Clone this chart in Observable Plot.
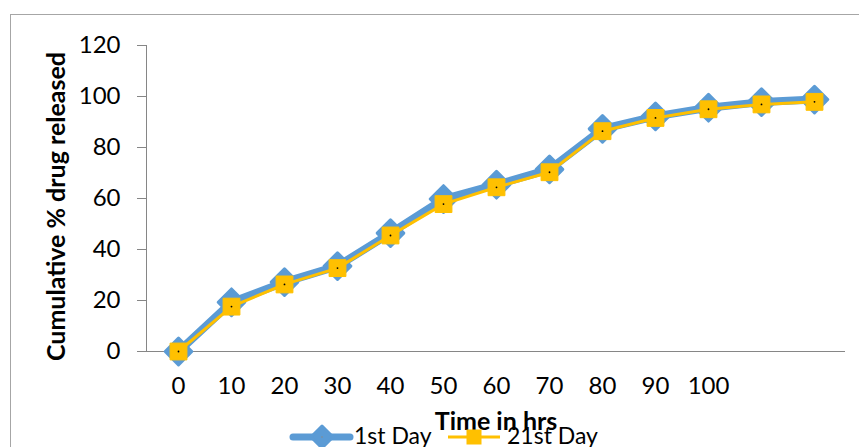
<!DOCTYPE html>
<html>
<head>
<meta charset="utf-8">
<script src="https://cdn.jsdelivr.net/npm/d3@7"></script>
<script src="https://cdn.jsdelivr.net/npm/@observablehq/plot@0.6"></script>
<style>
  html, body { margin: 0; padding: 0; background: #fff; }
  #wrap { position: relative; width: 859px; height: 447px; overflow: hidden; font-family: Lato, "Open Sans", sans-serif; }
  #border { position: absolute; left: 10px; top: 14px; right: -5px; bottom: -5px; border-top: 1px solid #a6a6a6; border-left: 1px solid #a6a6a6; }
  #chart { position: absolute; left: 0; top: 0; }
  #chart g[aria-label="y-axis label"] text,
  #chart g[aria-label="x-axis label"] text { font-weight: bold; font-size: 25px; }
  .leg { position: absolute; font-size: 23px; color: #000; white-space: nowrap; line-height: 1; }
  .sw { position: absolute; }
</style>
</head>
<body>
<div id="wrap">
  <div id="border"></div>
  <div id="chart"></div>
</div>
<script>
// ---- data ----
const times = ["0","10","20","30","40","50","60","70","80","90","100","110","120"];
const xTickLabels = ["0","10","20","30","40","50","60","70","80","90","100","",""];
const yTicks = [0, 20, 40, 60, 80, 100, 120];
const day1 = [0, 19.3, 27.2, 33.5, 46.4, 59.8, 65.4, 71.4, 87.3, 92.2, 95.6, 97.8, 98.8];
const day21 = [0, 17.6, 26.3, 32.7, 45.5, 57.8, 64.4, 70.3, 86.4, 91.6, 95.0, 96.9, 97.9];
const seriesNames = ["1st Day", "21st Day"];
const xLabel = "Time in hrs";
const yLabel = "Cumulative % drug released";

const blue = "#5B9BD5", yellow = "#FFC000";
const d1 = times.map((t, i) => ({t, v: day1[i]}));
const d21 = times.map((t, i) => ({t, v: day21[i]}));
const tickLabelOf = new Map(times.map((t, i) => [t, xTickLabels[i]]));

const plot = Plot.plot({
  width: 859,
  height: 447,
  marginLeft: 146,
  marginRight: 14,
  marginTop: 45,
  marginBottom: 96,
  style: {fontFamily: "Lato, 'Open Sans', sans-serif", fontSize: "24px", color: "#000", background: "transparent", overflow: "visible"},
  x: {type: "point", domain: times, padding: 0.5},
  y: {domain: [0, 120]},
  marks: [
    Plot.frame({anchor: "left", stroke: "#868686"}),
    Plot.ruleY([0], {stroke: "#868686"}),
    Plot.axisY({ticks: yTicks, tickSize: 9, tickPadding: 17, stroke: "#868686", label: yLabel, labelAnchor: "center", labelArrow: "none", labelOffset: 99}),
    Plot.axisX({tickSize: 0, tickPadding: 25, tickFormat: d => tickLabelOf.get(d), label: xLabel, labelAnchor: "center", labelArrow: "none", labelOffset: 78}),
    Plot.line(d1, {x: "t", y: "v", stroke: blue, strokeWidth: 8, strokeLinejoin: "round"}),
    Plot.dot(d1, {x: "t", y: "v", symbol: "diamond2", r: 12, fill: blue, stroke: blue, strokeWidth: 3, strokeLinejoin: "round"}),
    Plot.line(d21, {x: "t", y: "v", stroke: yellow, strokeWidth: 3}),
    Plot.dot(d21, {x: "t", y: "v", symbol: "square", r: 9.5, fill: yellow, stroke: yellow, strokeWidth: 1}),
    Plot.dot(d21, {x: "t", y: "v", r: 0.9, fill: "#000"})
  ]
});
// nudge the y-axis title down a little, as in the reference
const yl = plot.querySelector('g[aria-label="y-axis label"]');
if (yl) yl.setAttribute("transform", ((yl.getAttribute("transform") || "") + " translate(0,8)").trim());
document.getElementById("chart").appendChild(plot);

// ---- legend ----
const wrap = document.getElementById("wrap");
const legendSvg = `
<svg class="sw" style="left:288px;top:422px" width="70" height="30">
  <line x1="5" y1="15" x2="62" y2="15" stroke="${blue}" stroke-width="7" stroke-linecap="round"/>
  <path d="M34,4 L45,15 L34,26 L23,15 Z" fill="${blue}" stroke="${blue}" stroke-width="3" stroke-linejoin="round"/>
  <circle cx="34" cy="15" r="0.8" fill="#888"/>
</svg>
<svg class="sw" style="left:445px;top:422px" width="60" height="30">
  <line x1="3" y1="15" x2="55" y2="15" stroke="${yellow}" stroke-width="3"/>
  <rect x="21.5" y="7.5" width="15" height="15" fill="${yellow}"/>
</svg>`;
wrap.insertAdjacentHTML("beforeend", legendSvg);
const l1 = document.createElement("div");
l1.className = "leg"; l1.style.left = "354px"; l1.style.top = "424px"; l1.textContent = seriesNames[0];
const l2 = document.createElement("div");
l2.className = "leg"; l2.style.left = "507px"; l2.style.top = "424px"; l2.textContent = seriesNames[1];
wrap.appendChild(l1); wrap.appendChild(l2);
</script>
</body>
</html>
